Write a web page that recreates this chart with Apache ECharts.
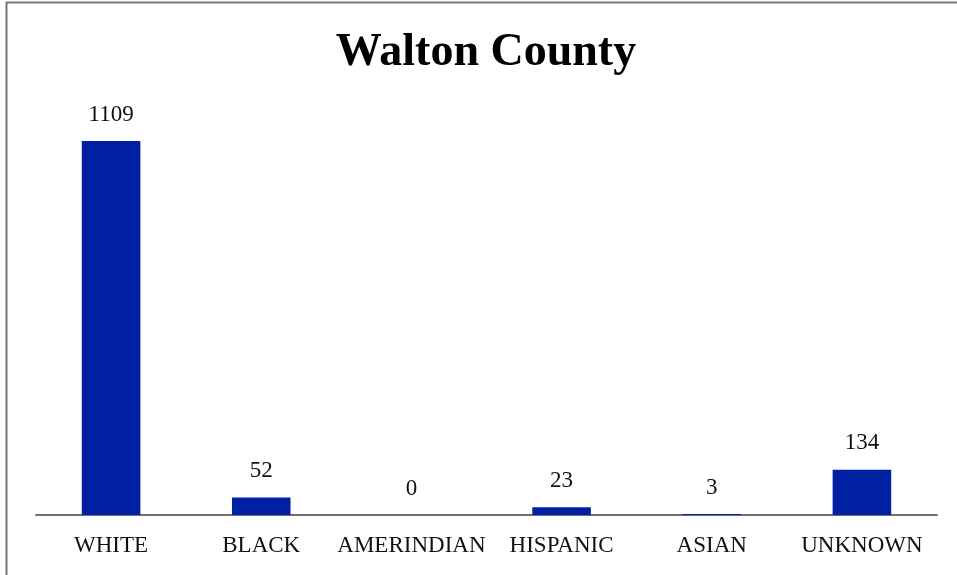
<!DOCTYPE html>
<html>
<head>
<meta charset="utf-8">
<script src="https://cdn.jsdelivr.net/npm/echarts@6/dist/echarts.min.js"></script>
<style>
html,body{margin:0;padding:0;background:#fff;}
#chart{width:957px;height:575px;}
</style>
</head>
<body>
<div id="chart"></div>
<script>
const titleText = "Walton County";
const categories = ["WHITE", "BLACK", "AMERINDIAN", "HISPANIC", "ASIAN", "UNKNOWN"];
const values = [1109, 52, 0, 23, 3, 134];

const chart = echarts.init(document.getElementById('chart'), null, {renderer: 'canvas'});
const serif = '"Liberation Serif", "Times New Roman", serif';
chart.setOption({
  animation: false,
  backgroundColor: '#ffffff',
  title: {
    text: titleText,
    left: 481,
    textAlign: 'center',
    top: 25,
    textStyle: {fontFamily: serif, fontWeight: 'bold', fontSize: 46, color: '#000'}
  },
  graphic: [
    {type: 'line', shape: {x1: 6, y1: 2.5, x2: 957, y2: 2.5}, style: {stroke: '#777', lineWidth: 2}},
    {type: 'line', shape: {x1: 6.5, y1: 2, x2: 6.5, y2: 575}, style: {stroke: '#777', lineWidth: 2}}
  ],
  grid: {left: 36, right: 20, top: 141, bottom: 60},
  xAxis: {
    type: 'category',
    data: categories,
    axisLine: {lineStyle: {color: '#707070', width: 2}},
    axisTick: {show: false},
    axisLabel: {fontFamily: serif, fontSize: 23, color: '#111', margin: 19, interval: 0}
  },
  yAxis: {
    type: 'value',
    min: 0,
    max: 1109,
    show: false,
    splitLine: {show: false}
  },
  series: [{
    type: 'bar',
    data: values,
    barWidth: '39%',
    itemStyle: {color: '#0020A3'},
    label: {
      show: true,
      position: 'top',
      distance: 15,
      fontFamily: serif,
      fontSize: 23,
      color: '#111'
    }
  }]
});
</script>
</body>
</html>
